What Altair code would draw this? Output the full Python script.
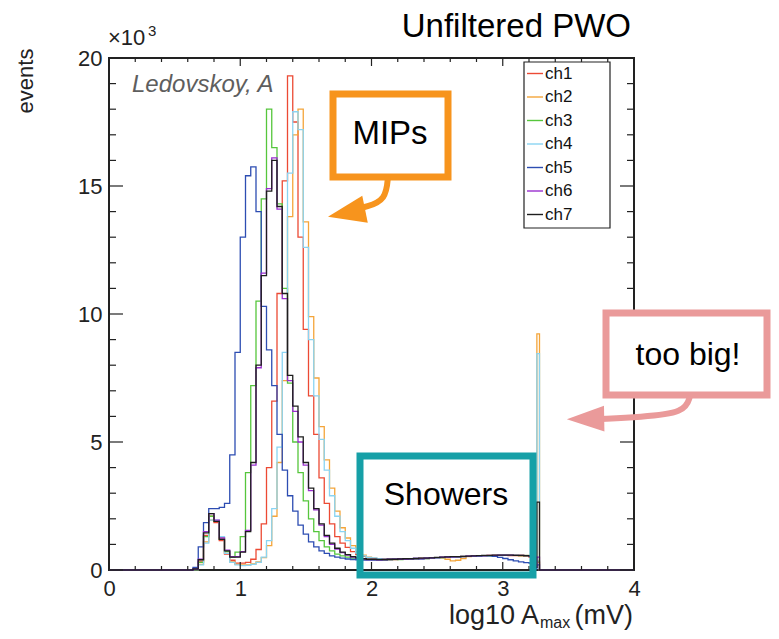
import altair as alt
import pandas as pd

FONT = "Liberation Sans"

channels = ["ch1", "ch2", "ch3", "ch4", "ch5", "ch6", "ch7"]
line_colors = ["#ec4a34", "#f4a53a", "#56c63c", "#8ad4f2", "#2d4db2", "#9a2fcf", "#1e1e1e"]

# histogram contents (thousands of events) per bin, bins of 0.04 from 0.60 to 2.00
peak_ch1 = [0.00, 0.03, 0.35, 1.35, 2.10, 1.85, 1.15, 0.62, 0.38, 0.27, 0.27, 0.30, 0.42, 0.80, 1.80, 4.00, 6.60, 10.80,
            15.20, 19.30, 17.50, 13.00, 9.40, 6.80, 5.30, 3.60, 2.60, 1.80, 1.30, 1.05, 0.88, 0.72, 0.60, 0.53, 0.48]
peak_ch2 = [0.00, 0.02, 0.22, 1.10, 1.95, 1.90, 1.25, 0.65, 0.32, 0.22, 0.20, 0.20, 0.24, 0.32, 0.48, 0.95, 2.10, 4.20,
            7.40, 13.80, 17.00, 18.00, 13.60, 9.90, 7.50, 5.60, 4.30, 3.20, 2.30, 1.65, 1.25, 0.95, 0.72, 0.58, 0.50]
peak_ch3 = [0.00, 0.02, 0.30, 1.30, 2.10, 1.90, 1.20, 0.72, 0.50, 0.70, 1.30, 3.80, 7.20, 10.50, 14.50, 18.00, 16.50,
            14.30, 11.00, 7.30, 5.00, 3.80, 2.70, 2.00, 1.50, 1.15, 0.90, 0.75, 0.62, 0.55, 0.50, 0.46, 0.44, 0.42, 0.41]
peak_ch4 = [0.00, 0.02, 0.20, 1.05, 1.95, 1.95, 1.30, 0.65, 0.30, 0.20, 0.17, 0.18, 0.22, 0.30, 0.50, 1.15, 2.40, 4.80,
            8.50, 15.50, 17.90, 17.20, 12.60, 9.00, 6.80, 5.10, 3.90, 2.90, 2.10, 1.50, 1.15, 0.85, 0.66, 0.55, 0.49]
peak_ch5 = [0.00, 0.10, 0.90, 1.85, 2.40, 2.40, 2.45, 2.60, 4.50, 8.50, 13.00, 15.40, 15.75, 14.00, 10.30, 8.60, 7.20,
            5.30, 3.90, 2.90, 2.30, 1.75, 1.40, 1.10, 0.90, 0.75, 0.65, 0.55, 0.50, 0.46, 0.43, 0.41, 0.40, 0.39, 0.39]
peak_ch6 = [0.00, 0.04, 0.42, 1.50, 2.20, 1.95, 1.25, 0.78, 0.52, 0.52, 0.72, 1.55, 4.10, 7.90, 11.60, 14.90, 16.10,
            14.10, 10.60, 7.40, 6.20, 5.00, 4.10, 3.10, 2.35, 1.75, 1.30, 1.00, 0.82, 0.68, 0.58, 0.50, 0.46, 0.43, 0.41]
peak_ch7 = [0.00, 0.04, 0.40, 1.45, 2.20, 1.90, 1.20, 0.75, 0.50, 0.50, 0.70, 1.50, 4.20, 8.00, 11.50, 14.80, 16.00,
            14.20, 10.80, 7.60, 6.40, 5.20, 4.20, 3.20, 2.40, 1.80, 1.35, 1.05, 0.85, 0.70, 0.60, 0.52, 0.47, 0.44, 0.42]

# bins of 0.04 from 2.00 to 3.24
plateau_ch1 = [0.44, 0.42, 0.41, 0.40, 0.41, 0.42, 0.42, 0.43, 0.44, 0.45, 0.45, 0.46, 0.48, 0.48, 0.49, 0.50, 0.51,
               0.52, 0.53, 0.54, 0.55, 0.55, 0.56, 0.56, 0.57, 0.57, 0.56, 0.56, 0.55, 0.54, 0.50]
plateau_ch2 = [0.46, 0.43, 0.42, 0.41, 0.41, 0.42, 0.43, 0.43, 0.44, 0.45, 0.46, 0.46, 0.47, 0.46, 0.42, 0.36, 0.38,
               0.45, 0.52, 0.54, 0.55, 0.56, 0.57, 0.58, 0.58, 0.58, 0.59, 0.59, 0.58, 0.57, 0.55]
plateau_ch3 = [0.40, 0.40, 0.40, 0.41, 0.42, 0.41, 0.43, 0.43, 0.44, 0.45, 0.45, 0.47, 0.47, 0.48, 0.50, 0.50, 0.51,
               0.53, 0.53, 0.54, 0.55, 0.56, 0.55, 0.56, 0.57, 0.58, 0.57, 0.57, 0.56, 0.55, 0.53]
plateau_ch4 = [0.47, 0.44, 0.42, 0.41, 0.41, 0.42, 0.42, 0.43, 0.44, 0.44, 0.45, 0.46, 0.47, 0.48, 0.49, 0.50, 0.52,
               0.52, 0.53, 0.54, 0.55, 0.56, 0.56, 0.57, 0.58, 0.58, 0.58, 0.58, 0.57, 0.57, 0.56]
plateau_ch5 = [0.39, 0.39, 0.40, 0.41, 0.42, 0.43, 0.42, 0.44, 0.45, 0.44, 0.46, 0.47, 0.48, 0.49, 0.50, 0.51, 0.51,
               0.52, 0.53, 0.54, 0.54, 0.55, 0.55, 0.53, 0.49, 0.45, 0.40, 0.36, 0.32, 0.29, 0.27]
plateau_ch6 = [0.41, 0.40, 0.41, 0.42, 0.42, 0.43, 0.43, 0.44, 0.45, 0.45, 0.46, 0.47, 0.48, 0.50, 0.50, 0.51, 0.52,
               0.53, 0.54, 0.55, 0.56, 0.56, 0.57, 0.57, 0.58, 0.58, 0.58, 0.57, 0.57, 0.56, 0.53]
plateau_ch7 = [0.42, 0.41, 0.41, 0.42, 0.42, 0.43, 0.44, 0.44, 0.45, 0.46, 0.46, 0.47, 0.49, 0.50, 0.51, 0.52, 0.52,
               0.53, 0.54, 0.55, 0.56, 0.57, 0.57, 0.58, 0.58, 0.58, 0.58, 0.57, 0.57, 0.56, 0.54]

# last narrow bin before overflow, and overflow spike bin
end_ch1 = [0.10, 0.30]
end_ch2 = [0.12, 9.22]
end_ch3 = [0.10, 0.35]
end_ch4 = [0.12, 8.45]
end_ch5 = [0.05, 0.20]
end_ch6 = [0.10, 0.50]
end_ch7 = [0.10, 2.65]

# bin lower edges
edges_peak = [round(0.60 + 0.04 * i, 2) for i in range(35)]
edges_plateau = [round(2.00 + 0.04 * i, 2) for i in range(31)]
edges_end = [3.24, 3.26]
last_edge = 3.28

y_major = [0, 5, 10, 15, 20]
y_minor = [v for v in range(0, 21) if v % 5 != 0]
x_major = [0, 1, 2, 3, 4]
x_minor = [round(0.2 * i, 1) for i in range(21) if i % 5 != 0]

series = {
    "ch1": peak_ch1 + plateau_ch1 + end_ch1,
    "ch2": peak_ch2 + plateau_ch2 + end_ch2,
    "ch3": peak_ch3 + plateau_ch3 + end_ch3,
    "ch4": peak_ch4 + plateau_ch4 + end_ch4,
    "ch5": peak_ch5 + plateau_ch5 + end_ch5,
    "ch6": peak_ch6 + plateau_ch6 + end_ch6,
    "ch7": peak_ch7 + plateau_ch7 + end_ch7,
}
edges = edges_peak + edges_plateau + edges_end

rows = []
for ch in channels:
    pts = [(0.0, 0.0)] + list(zip(edges, series[ch])) + [(last_edge, 0.0), (4.0, 0.0)]
    for k, (xv, yv) in enumerate(pts):
        rows.append({"x": xv, "y": yv, "ch": ch, "k": k})
hist = pd.DataFrame(rows)

# page-pixel to data helpers for annotations (plot area 109..634 x 58..570)
def dx(px):
    return (px - 109) / 131.25

def dy(py):
    return (570 - py) / 25.6

xscale = alt.Scale(domain=[0, 4], nice=False, zero=False)
yscale = alt.Scale(domain=[0, 20], nice=False, zero=False)
xaxis = alt.Axis(values=x_major, format="d", title=None, ticks=False, domain=False, grid=False,
                 labelFontSize=22, labelFont=FONT, labelColor="#222", labelPadding=8, labelFlush=False)
yaxis = alt.Axis(values=y_major, format="d", title=None, ticks=False, domain=False, grid=False,
                 labelFontSize=22, labelFont=FONT, labelColor="#222", labelPadding=7, labelFlush=False)
X = alt.X("x:Q", scale=xscale, axis=xaxis)
Y = alt.Y("y:Q", scale=yscale, axis=yaxis)
C = alt.Color("ch:N", scale=alt.Scale(domain=channels, range=line_colors), legend=None)

layers = []

lines = alt.Chart(hist).mark_line(interpolate="step-after", strokeWidth=1.3).encode(
    x=X, y=Y, order="k:Q", color=C)
layers.append(lines)

TICK = "#222"
def ytick(vals, a, b):
    return alt.Chart(pd.DataFrame({"y": vals})).mark_rule(color=TICK, strokeWidth=1.2).encode(
        y=Y, x=alt.value(a), x2=alt.value(b))

def xtick(vals, a, b):
    return alt.Chart(pd.DataFrame({"x": vals})).mark_rule(color=TICK, strokeWidth=1.2).encode(
        x=X, y=alt.value(a), y2=alt.value(b))

layers += [ytick(y_major, 0, 14), ytick(y_minor, 0, 7), ytick(y_major, 525, 511), ytick(y_minor, 525, 518),
           xtick(x_major, 512, 504), xtick(x_minor, 512, 508), xtick(x_major, 0, 8), xtick(x_minor, 0, 4)]

# legend box (ROOT style)
leg_y = [73.5 + 23.5 * i for i in range(len(channels))]
leg_box = pd.DataFrame({"x": [dx(524)], "x2": [dx(610)], "y": [dy(62)], "y2": [dy(228)]})
layers.append(alt.Chart(leg_box).mark_rect(fill="white", stroke="#222", strokeWidth=1.2).encode(
    x=X, x2="x2:Q", y=Y, y2="y2:Q"))
leg_df = pd.DataFrame({"ch": channels, "x": [dx(527)] * 7, "x2": [dx(543)] * 7, "y": [dy(v) for v in leg_y]})
layers.append(alt.Chart(leg_df).mark_rule(strokeWidth=1.4).encode(x=X, x2="x2:Q", y=Y, color=C))
leg_txt = pd.DataFrame({"ch": channels, "x": [dx(545)] * 7, "y": [dy(v) for v in leg_y]})
layers.append(alt.Chart(leg_txt).mark_text(font=FONT, fontSize=17, color="#111", align="left",
                                           baseline="middle").encode(x=X, y=Y, text="ch:N"))

# annotation boxes
ORANGE = "#f7941d"
TEAL = "#16a0a7"
PINK = "#ea9a9a"

def box(x0, x1, y0, y1, color, fill_white):
    df = pd.DataFrame({"x": [dx(x0)], "x2": [dx(x1)], "y": [dy(y0)], "y2": [dy(y1)]})
    if fill_white:
        mk = alt.Chart(df).mark_rect(fill="white", stroke=color, strokeWidth=7)
    else:
        mk = alt.Chart(df).mark_rect(fillOpacity=0, stroke=color, strokeWidth=7)
    return mk.encode(x=X, x2="x2:Q", y=Y, y2="y2:Q")

def curve(pts, color):
    df = pd.DataFrame({"x": [dx(p[0]) for p in pts], "y": [dy(p[1]) for p in pts], "k": list(range(len(pts)))})
    return alt.Chart(df).mark_line(color=color, strokeWidth=6, interpolate="basis").encode(x=X, y=Y, order="k:Q")

def head(cx, cy, size, angle, color, ratio):
    path = "M -1 0 L 1 -%.3f L 1 %.3f Z" % (ratio, ratio)
    df = pd.DataFrame({"x": [dx(cx)], "y": [dy(cy)]})
    return alt.Chart(df).mark_point(shape=path, size=size, angle=angle, filled=True, color=color,
                                    opacity=1, strokeWidth=0).encode(x=X, y=Y)

def label(txt, px, py, size, align="center", color="black", style="normal", angle=0):
    df = pd.DataFrame({"x": [dx(px)], "y": [dy(py)]})
    return alt.Chart(df).mark_text(text=txt, font=FONT, fontSize=size, color=color, align=align,
                                   baseline="alphabetic", fontStyle=style, angle=angle).encode(x=X, y=Y)

layers += [
    box(333, 448, 94, 177, ORANGE, True),
    curve([(388, 176), (386, 200), (366, 207), (356, 209)], ORANGE),
    head(346.5, 213, 1430, 348.5, ORANGE, 0.733),
    label("MIPs", 390, 144, 33),
    box(360, 533, 456, 575, TEAL, False),
    label("Showers", 446, 505, 32),
    box(606, 767, 313, 395, PINK, True),
    curve([(690, 396), (685, 413), (640, 417), (600, 419)], PINK),
    head(585.5, 419, 1400, 359, PINK, 0.685),
    label("too big!", 688, 365, 32),
    label("Unfiltered PWO", 631, 37, 33, align="right"),
    label("Ledovskoy, A", 132, 92, 24, align="left", color="#5e5e5e", style="italic"),
    label("\u00d710", 108, 45, 22, align="left", color="#222"),
    label("3", 148, 36, 15, align="left", color="#222"),
    label("events", 33, 81, 22, color="#222", angle=270),
    label("log10 A", 539, 624, 27, align="right", color="#222"),
    label("max", 540, 628, 16, align="left", color="#222"),
    label("(mV)", 633, 624, 27, align="right", color="#222"),
]

chart = alt.layer(*layers).properties(
    width=525, height=512,
    padding={"left": 101, "top": 50, "right": 137, "bottom": 61},
    autosize=alt.AutoSizeParams(type="none"),
).configure_view(stroke="#222", strokeWidth=2)

chart.save("out.html", embed_options={"renderer": "svg", "actions": False})
